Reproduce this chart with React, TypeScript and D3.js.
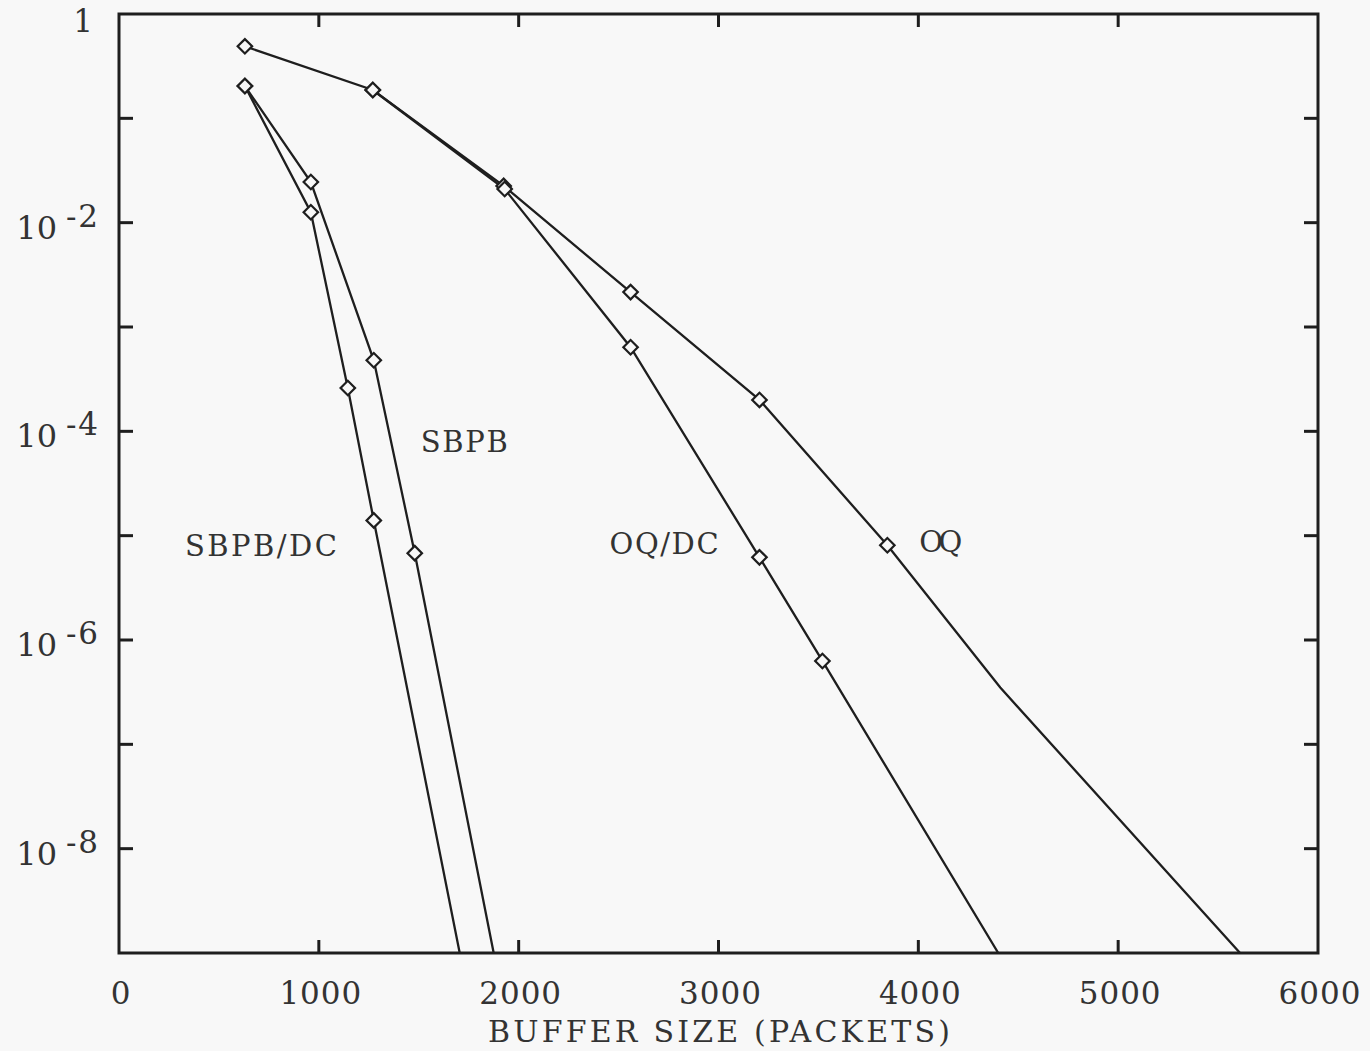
import React, { useRef, useEffect } from 'react';
import * as d3 from 'd3';

// buffer size (packets) vs loss probability
const oqPoints: [number, number][] = [[630, 0.49], [1270, 0.187], [1925, 0.0225], [2560, 2.16e-3], [3205, 2.0e-4], [3845, 8.1e-6]];
const oqTail: [number, number][] = [[4410, 3.5e-7], [5610, 1e-9]];
const oqdcPoints: [number, number][] = [[1270, 0.187], [1930, 0.021], [2560, 6.4e-4], [3205, 6.2e-6], [3520, 6.3e-7]];
const oqdcTail: [number, number][] = [[4400, 1e-9]];
const sbpbPoints: [number, number][] = [[630, 0.204], [960, 0.0245], [1275, 4.8e-4], [1480, 6.8e-6]];
const sbpbTail: [number, number][] = [[1875, 1e-9]];
const sbpbdcPoints: [number, number][] = [[630, 0.204], [960, 0.0126], [1145, 2.6e-4], [1275, 1.4e-5]];
const sbpbdcTail: [number, number][] = [[1705, 1e-9]];

const xTicks = [0, 1000, 2000, 3000, 4000, 5000, 6000];
const yDecades = [0, -1, -2, -3, -4, -5, -6, -7, -8, -9];
const yLabelExps = [-2, -4, -6, -8];

// curve labels: text, x value, y value (label baseline-left)
const curveLabels: { name: string; x: number; y: number; w: number }[] = [
  { name: 'SBPB/DC', x: 330, y: 6.4e-6, w: 152 },
  { name: 'SBPB', x: 1510, y: 6.3e-5, w: 87 },
  { name: 'OQ/DC', x: 2455, y: 6.7e-6, w: 109 },
  { name: 'OQ', x: 4005, y: 6.9e-6, w: 43 },
];

const FONT = '"DejaVu Serif", serif';
const INK = '#1e1e1e';
const TEXT = '#333';

function App() {
  const svgRef = useRef<SVGSVGElement>(null);

  useEffect(() => {
    const svg = d3.select(svgRef.current);
    svg.selectAll('*').remove();

    const x = d3.scaleLinear().domain([0, 6000]).range([119, 1318]);
    const y = d3.scaleLog().domain([1, 1e-9]).range([14, 953]);

    svg.append('rect').attr('width', 1370).attr('height', 1051).attr('fill', '#f8f8f8');

    svg.append('clipPath').attr('id', 'plotclip')
      .append('rect').attr('x', x(0)).attr('y', y(1)).attr('width', x(6000) - x(0)).attr('height', y(1e-9) - y(1));

    // frame
    svg.append('rect')
      .attr('x', x(0)).attr('y', y(1))
      .attr('width', x(6000) - x(0)).attr('height', y(1e-9) - y(1))
      .attr('fill', 'none').attr('stroke', INK).attr('stroke-width', 3);

    // x ticks top and bottom
    const tickG = svg.append('g').attr('stroke', INK).attr('stroke-width', 3);
    xTicks.slice(1, -1).forEach(t => {
      tickG.append('line').attr('x1', x(t)).attr('x2', x(t)).attr('y1', y(1e-9)).attr('y2', y(1e-9) - 13);
      tickG.append('line').attr('x1', x(t)).attr('x2', x(t)).attr('y1', y(1)).attr('y2', y(1) + 13);
    });
    // y ticks left and right
    yDecades.slice(1, -1).forEach(e => {
      const v = Math.pow(10, e);
      tickG.append('line').attr('x1', x(0)).attr('x2', x(0) + 14).attr('y1', y(v)).attr('y2', y(v));
      tickG.append('line').attr('x1', x(6000)).attr('x2', x(6000) - 14).attr('y1', y(v)).attr('y2', y(v));
    });

    // x tick labels
    svg.append('g').selectAll('text').data(xTicks).join('text')
      .attr('x', d => x(d) + 2).attr('y', 1004)
      .attr('text-anchor', 'middle')
      .attr('font-family', FONT).attr('font-size', 31).attr('fill', TEXT)
      .attr('letter-spacing', 1)
      .text(d => String(d));

    // y labels
    svg.append('text').attr('x', 83).attr('y', 32).attr('text-anchor', 'middle')
      .attr('font-family', FONT).attr('font-size', 31).attr('fill', TEXT).text('1');
    yLabelExps.forEach(e => {
      const py = y(Math.pow(10, e));
      svg.append('text').attr('x', 57).attr('y', py + 16).attr('text-anchor', 'end')
        .attr('font-family', FONT).attr('font-size', 32).attr('fill', TEXT).text('10');
      svg.append('text').attr('x', 66).attr('y', py + 4)
        .attr('font-family', FONT).attr('font-size', 31).attr('fill', TEXT)
        .attr('textLength', 32).attr('lengthAdjust', 'spacing')
        .text('-' + Math.abs(e));
    });

    // axis title
    svg.append('text').attr('x', 488).attr('y', 1042)
      .attr('font-family', FONT).attr('font-size', 30).attr('fill', TEXT)
      .attr('textLength', 462).attr('lengthAdjust', 'spacing')
      .text('BUFFER SIZE (PACKETS)');

    const line = d3.line<[number, number]>().x(d => x(d[0])).y(d => y(d[1]));
    const plot = svg.append('g').attr('clip-path', 'url(#plotclip)');
    const series = [
      [oqPoints, oqTail],
      [oqdcPoints, oqdcTail],
      [sbpbPoints, sbpbTail],
      [sbpbdcPoints, sbpbdcTail],
    ];
    series.forEach(([pts, tail]) => {
      plot.append('path').datum([...pts, ...tail])
        .attr('d', line).attr('fill', 'none').attr('stroke', INK).attr('stroke-width', 2.3);
    });
    const diamond = d3.symbol().type(d3.symbolSquare).size(105);
    series.forEach(([pts]) => {
      plot.append('g').selectAll('path').data(pts).join('path')
        .attr('d', diamond)
        .attr('transform', d => `translate(${x(d[0])},${y(d[1])}) rotate(45)`)
        .attr('fill', '#f8f8f8').attr('stroke', INK).attr('stroke-width', 2.2);
    });

    // curve labels
    svg.append('g').selectAll('text').data(curveLabels).join('text')
      .attr('x', d => x(d.x)).attr('y', d => y(d.y))
      .attr('font-family', FONT).attr('font-size', 29).attr('fill', TEXT)
      .attr('textLength', d => d.w).attr('lengthAdjust', 'spacing')
      .text(d => d.name);
  }, []);

  return (
    <svg ref={svgRef} width={1370} height={1051} style={{ position: 'absolute', left: 0, top: 0 }} />
  );
}

export default App;
